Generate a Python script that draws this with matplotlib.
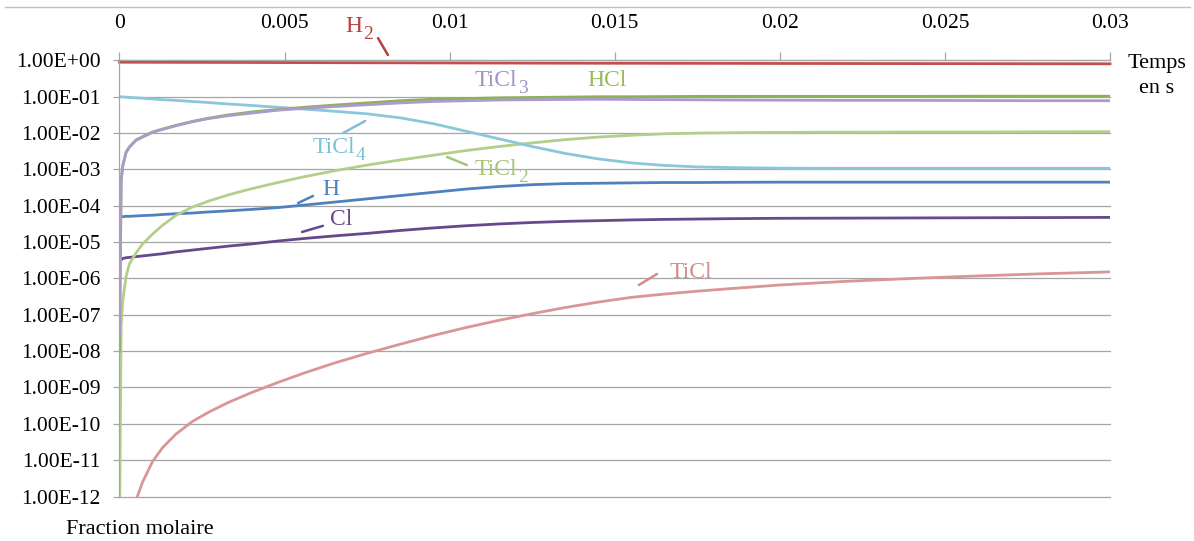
import matplotlib.pyplot as plt
import numpy as np
from matplotlib.ticker import FixedLocator, FuncFormatter, NullLocator
from matplotlib.lines import Line2D

plt.rcParams['font.family'] = 'Liberation Serif'

# time in s
t_s = [0, 0.00005, 0.0001, 0.0002, 0.0003, 0.0005, 0.0007, 0.001, 0.0013, 0.0017,
       0.0022, 0.0027, 0.0033, 0.004, 0.0048, 0.0056, 0.0065, 0.0075, 0.0085, 0.0095,
       0.0105, 0.0115, 0.0125, 0.0135, 0.0145, 0.0155, 0.0165, 0.0175, 0.0185, 0.02,
       0.022, 0.024, 0.026, 0.028, 0.03]

# mole fractions, stored as log10 values
log_h2 = [-0.05, -0.05, -0.05, -0.05, -0.05, -0.051, -0.051, -0.052, -0.052, -0.053,
          -0.054, -0.055, -0.056, -0.057, -0.059, -0.061, -0.063, -0.065, -0.067, -0.069,
          -0.071, -0.073, -0.075, -0.077, -0.078, -0.079, -0.08, -0.081, -0.082, -0.084,
          -0.086, -0.088, -0.09, -0.092, -0.094]
log_hcl = [-8.0, -3.3, -2.9, -2.52, -2.38, -2.19, -2.1, -1.97, -1.89, -1.79,
           -1.68, -1.59, -1.5, -1.42, -1.35, -1.29, -1.23, -1.17, -1.11, -1.07,
           -1.05, -1.03, -1.02, -1.01, -1.0, -1.0, -0.995, -0.99, -0.99, -0.99,
           -0.99, -0.99, -0.985, -0.985, -0.985]
log_ticl3 = [-7.6, -3.3, -2.9, -2.53, -2.39, -2.2, -2.11, -1.98, -1.9, -1.8,
             -1.69, -1.6, -1.52, -1.45, -1.37, -1.32, -1.27, -1.22, -1.17, -1.13,
             -1.11, -1.09, -1.08, -1.075, -1.07, -1.075, -1.08, -1.085, -1.09, -1.095,
             -1.1, -1.1, -1.105, -1.11, -1.11]
log_ticl4 = [-1.0, -1.0, -1.005, -1.01, -1.02, -1.03, -1.04, -1.06, -1.08, -1.1,
             -1.13, -1.16, -1.2, -1.24, -1.29, -1.34, -1.4, -1.47, -1.58, -1.74,
             -1.95, -2.16, -2.37, -2.56, -2.71, -2.82, -2.89, -2.93, -2.95, -2.965,
             -2.97, -2.97, -2.97, -2.97, -2.97]
log_ticl2 = [-13.0, -7.3, -6.6, -5.95, -5.6, -5.3, -5.05, -4.78, -4.54, -4.27,
             -4.04, -3.87, -3.7, -3.53, -3.36, -3.2, -3.04, -2.88, -2.74, -2.61,
             -2.48, -2.37, -2.27, -2.18, -2.11, -2.06, -2.02, -2.0, -1.99, -1.98,
             -1.975, -1.97, -1.97, -1.965, -1.96]
log_h = [-4.3, -4.3, -4.3, -4.29, -4.29, -4.28, -4.27, -4.26, -4.24, -4.22,
         -4.2, -4.17, -4.14, -4.1, -4.05, -3.98, -3.9, -3.81, -3.72, -3.63,
         -3.54, -3.47, -3.42, -3.39, -3.38, -3.37, -3.36, -3.36, -3.355, -3.35,
         -3.35, -3.35, -3.35, -3.35, -3.35]
log_cl = [-5.5, -5.49, -5.45, -5.43, -5.42, -5.4, -5.38, -5.35, -5.32, -5.27,
          -5.22, -5.17, -5.11, -5.05, -4.97, -4.9, -4.83, -4.76, -4.68, -4.61,
          -4.55, -4.5, -4.46, -4.43, -4.41, -4.39, -4.375, -4.365, -4.355, -4.345,
          -4.34, -4.335, -4.33, -4.325, -4.32]
log_ticl = [-14.0, -14.0, -14.0, -14.0, -13.5, -12.1, -11.6, -11.04, -10.66, -10.29,
            -9.94, -9.68, -9.41, -9.14, -8.86, -8.6, -8.33, -8.06, -7.81, -7.57,
            -7.35, -7.15, -6.97, -6.8, -6.65, -6.52, -6.43, -6.35, -6.28, -6.18,
            -6.08, -6.0, -5.93, -5.87, -5.82]

x_ticks = [0, 0.005, 0.01, 0.015, 0.02, 0.025, 0.03]
y_ticks = [10.0 ** k for k in range(-12, 1)]

series = [
    (log_ticl, '#D99694'),
    (log_cl, '#65498A'),
    (log_h, '#4F81BD'),
    (log_ticl2, '#B3CF8A'),
    (log_ticl4, '#8BC7DA'),
    (log_hcl, '#8DB254'),
    (log_ticl3, '#AC9ACB'),
    (log_h2, '#C0504D'),
]

fig = plt.figure(figsize=(11.94, 5.41), dpi=100)
ax = fig.add_axes([119.5 / 1194, 1 - 496.5 / 541, 990.5 / 1194, 436.1 / 541])

for vals, col in series:
    ax.plot(t_s, 10.0 ** np.array(vals), color=col, lw=2.0,
            clip_on=(vals is not log_h2))

ax.set_yscale('log')
ax.set_ylim(1e-12, 1)
ax.set_xlim(0, 0.03)
ax.yaxis.set_major_locator(FixedLocator(y_ticks))
ax.yaxis.set_minor_locator(NullLocator())
ax.yaxis.set_major_formatter(FuncFormatter(lambda v, p: f"{v:.2E}"))
ax.xaxis.tick_top()
ax.set_xticks(x_ticks)
ax.xaxis.set_major_formatter(FuncFormatter(lambda v, p: f"{v:g}"))
ax.grid(axis='y', color='#A6A6A6', lw=0.9)
for gl in ax.get_ygridlines():
    gl.set_clip_on(False)
ax.set_axisbelow(True)
ax.tick_params(axis='x', direction='out', length=6, width=0.9, color='#A6A6A6',
               pad=14, labelsize=15.5)
ax.tick_params(axis='y', direction='out', length=4.5, width=0.9, color='#A6A6A6',
               pad=9, labelsize=15.5)
for s in ['bottom', 'right']:
    ax.spines[s].set_visible(False)
for s in ['top', 'left']:
    ax.spines[s].set_color('#A6A6A6')
    ax.spines[s].set_linewidth(0.9)

# species labels: main text, subscript, baseline position, colour, leader line
labels = [
    ('H', '2', 0.00709, 6.16, '#B8413E', (0.00783, 4.1), (0.00813, 1.41)),
    ('TiCl', '3', 0.0114, 0.198, '#A292C6', None, None),
    ('HCl', '', 0.01477, 0.198, '#9BBB59', None, None),
    ('TiCl', '4', 0.00648, 2.78e-3, '#7FC0D4', (0.00677, 1.0e-2), (0.00744, 2.15e-2)),
    ('TiCl', '2', 0.0114, 7.03e-4, '#A6C47A', (0.00992, 2.2e-3), (0.01052, 1.32e-3)),
    ('H', '', 0.00639, 1.98e-4, '#4F81BD', (0.00541, 1.19e-4), (0.00586, 1.86e-4)),
    ('Cl', '', 0.00672, 2.96e-5, '#65498A', (0.00553, 1.9e-5), (0.00616, 2.8e-5)),
    ('TiCl', '', 0.01732, 1.01e-6, '#D38C8B', (0.01573, 6.6e-7), (0.01628, 1.33e-6)),
]
for main, sub, lx, ly, col, p1, p2 in labels:
    tx = ax.text(lx, ly, main, color=col, fontsize=17, ha='center', va='baseline',
                 clip_on=False)
    if sub:
        ax.annotate(sub, xy=(1, 0), xycoords=tx, xytext=(0.5, -1.5),
                    textcoords='offset points', color=col, fontsize=14,
                    ha='left', va='baseline', annotation_clip=False)
    if p1 is not None:
        ax.annotate('', xy=p1, xytext=p2, annotation_clip=False,
                    arrowprops=dict(arrowstyle='-', color=col, lw=1.8,
                                    shrinkA=0, shrinkB=0))

fig.text(1157 / 1194, 1 - 76 / 541, 'Temps\nen s', ha='center', va='center',
         fontsize=16, linespacing=1.45)
fig.text(140 / 1194, 1 - 530 / 541, 'Fraction molaire', ha='center', va='center',
         fontsize=16)

# chart frame line at the top
fig.add_artist(Line2D([5 / 1194, 1190 / 1194], [1 - 7 / 541] * 2,
                      color='#BFBFBF', lw=1))

fig.savefig('out.png', dpi=100)
